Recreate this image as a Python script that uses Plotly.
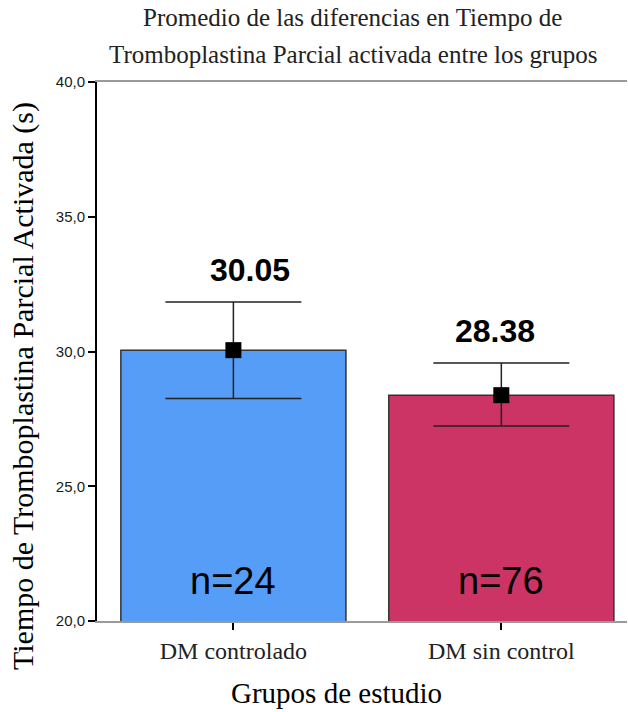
import plotly.graph_objects as go

# Study groups and their activated partial thromboplastin time (seconds)
groups = ["DM controlado", "DM sin control"]
means = [30.05, 28.38]
upper = [31.84, 29.57]
lower = [28.26, 27.24]
counts = [24, 76]
bar_colors = ["#559DF6", "#CB3464"]

y_ticks = [20, 25, 30, 35, 40]
y_tick_text = ["20,0", "25,0", "30,0", "35,0", "40,0"]

W, H = 628, 712
ML, MR, MT, MB = 97, 1, 82, 91
PW, PH = W - ML - MR, H - MT - MB


def px_x(x):
    return (x - ML) / PW


def px_y(y):
    return (H - MB - y) / PH


serif = "Liberation Serif, Times New Roman, serif"
sans = "Liberation Sans, Arial, sans-serif"
xs = list(range(len(groups)))

fig = go.Figure()
fig.add_trace(go.Bar(
    x=xs, y=means, width=0.84, base=0,
    marker=dict(color=bar_colors, line=dict(color="#333333", width=1.5)),
    hoverinfo="skip", showlegend=False,
))
fig.add_trace(go.Scatter(
    x=xs, y=means, mode="markers",
    marker=dict(symbol="square", size=16, color="black"),
    error_y=dict(
        type="data", symmetric=False,
        array=[u - m for u, m in zip(upper, means)],
        arrayminus=[m - l for m, l in zip(means, lower)],
        color="#222222", thickness=1.5, width=68,
    ),
    showlegend=False, hoverinfo="skip",
))

annotations = []
# mean labels above the error bars
for i, (m, u, dx) in enumerate(zip(means, upper, [17, -6])):
    annotations.append(dict(
        x=i, y=u, xref="x", yref="y", text=f"{m:.2f}", showarrow=False,
        xanchor="center", yanchor="bottom", yshift=12, xshift=dx,
        font=dict(family=sans, size=32, color="black", weight="bold"),
    ))
# sample sizes inside the bars
for i, n in enumerate(counts):
    annotations.append(dict(
        x=i, y=20, xref="x", yref="y", text=f"n={n}", showarrow=False,
        xanchor="center", yanchor="bottom", yshift=17,
        font=dict(family=sans, size=38, color="black"),
    ))


def paper_text(x, y, text, size, angle=0, color="black"):
    return dict(
        x=px_x(x), y=px_y(y), xref="paper", yref="paper", text=text,
        showarrow=False, xanchor="center", yanchor="middle", textangle=angle,
        font=dict(family=serif, size=size, color=color),
    )


# two-line title
annotations.append(paper_text(352, 18, "Promedio de las diferencias en Tiempo de", 25, color="#222222"))
annotations.append(paper_text(353, 55, "Tromboplastina Parcial activada entre los grupos", 25, color="#222222"))
# axis titles
annotations.append(paper_text(336, 693, "Grupos de estudio", 29))
annotations.append(paper_text(23, 386, "Tiempo de Tromboplastina Parcial Activada (s)", 30, angle=-90))

fig.update_layout(
    width=W, height=H,
    margin=dict(l=ML, r=MR, t=MT, b=MB, pad=0),
    paper_bgcolor="white", plot_bgcolor="white",
    annotations=annotations,
    xaxis=dict(
        range=[-0.509, 1.469], tickvals=xs, ticktext=groups,
        showline=True, linecolor="#9a9a9a", linewidth=2, mirror=True,
        ticks="outside", ticklen=7, tickwidth=2, tickcolor="black",
        tickfont=dict(family=serif, size=24, color="#222222"),
        showgrid=False, zeroline=False,
    ),
    yaxis=dict(
        range=[20, 40], tickvals=y_ticks, ticktext=y_tick_text,
        showline=True, linecolor="black", linewidth=2,
        ticks="outside", ticklen=7, tickwidth=2, tickcolor="black",
        tickfont=dict(family=sans, size=15, color="#1a1a1a"),
        showgrid=False, zeroline=False,
    ),
)

fig.write_html("out.html")
